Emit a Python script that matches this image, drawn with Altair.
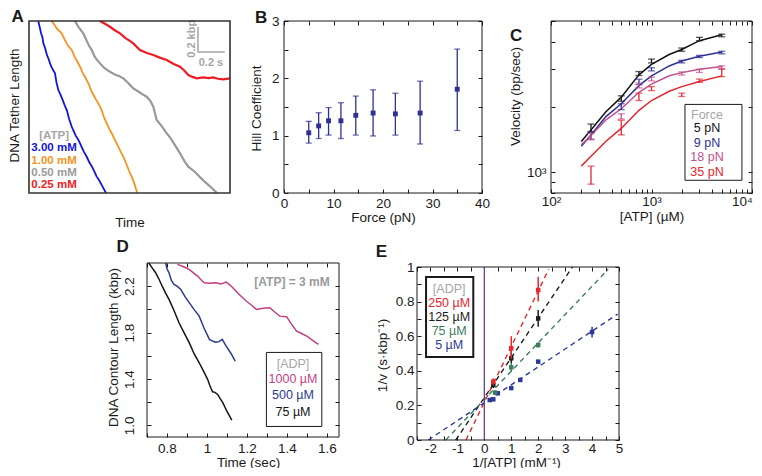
import altair as alt
import pandas as pd

W, H = 746, 460
FONT = "Liberation Sans"
INK = "#1a1a1a"
GRAY = "#9c9c9c"
LABEL_SIZE = 13.5

# ---------------- data ----------------
# Panel A : tether-length traces (time s, length kbp, arbitrary origin)
A_BLUE_T = [0.069, 0.080, 0.090, 0.100, 0.107, 0.120, 0.135, 0.145, 0.157, 0.170, 0.183, 0.194, 0.205, 0.219, 0.235, 0.250, 0.265, 0.282, 0.300, 0.319, 0.335, 0.350, 0.365, 0.381, 0.395, 0.410, 0.431, 0.450, 0.470, 0.490, 0.505, 0.520, 0.540, 0.560, 0.575]
A_BLUE_L = [1.400, 1.350, 1.300, 1.270, 1.218, 1.180, 1.120, 1.095, 1.055, 1.020, 0.995, 0.974, 0.900, 0.838, 0.800, 0.760, 0.718, 0.675, 0.600, 0.539, 0.500, 0.465, 0.438, 0.404, 0.370, 0.335, 0.295, 0.250, 0.215, 0.170, 0.133, 0.110, 0.070, 0.030, 0.000]
A_ORANGE_T = [0.169, 0.190, 0.210, 0.244, 0.265, 0.290, 0.319, 0.340, 0.360, 0.381, 0.400, 0.420, 0.443, 0.470, 0.495, 0.517, 0.540, 0.560, 0.580, 0.600, 0.620, 0.642, 0.665, 0.685, 0.704, 0.725, 0.745, 0.766, 0.785, 0.808]
A_ORANGE_L = [1.400, 1.370, 1.335, 1.300, 1.250, 1.200, 1.164, 1.110, 1.070, 1.028, 0.980, 0.940, 0.893, 0.820, 0.770, 0.730, 0.680, 0.615, 0.567, 0.520, 0.480, 0.431, 0.380, 0.335, 0.295, 0.240, 0.185, 0.133, 0.080, 0.000]
A_GRAY_T = [0.343, 0.370, 0.405, 0.430, 0.450, 0.468, 0.490, 0.510, 0.530, 0.560, 0.585, 0.604, 0.640, 0.675, 0.704, 0.740, 0.778, 0.810, 0.845, 0.878, 0.905, 0.928, 0.940, 0.953, 0.990, 1.028, 1.060, 1.095, 1.127, 1.160, 1.189, 1.239, 1.280, 1.313, 1.360, 1.403]
A_GRAY_L = [1.400, 1.350, 1.300, 1.240, 1.195, 1.164, 1.110, 1.080, 1.055, 1.020, 1.000, 0.987, 0.965, 0.950, 0.933, 0.895, 0.852, 0.830, 0.805, 0.784, 0.750, 0.702, 0.650, 0.594, 0.545, 0.486, 0.440, 0.380, 0.323, 0.260, 0.214, 0.171, 0.125, 0.090, 0.045, 0.000]
A_RED_T = [0.530, 0.570, 0.604, 0.640, 0.679, 0.720, 0.750, 0.778, 0.828, 0.880, 0.928, 0.980, 1.028, 1.080, 1.127, 1.160, 1.189, 1.220, 1.251, 1.301, 1.340, 1.375, 1.410, 1.450, 1.500]
A_RED_L = [1.400, 1.375, 1.353, 1.325, 1.299, 1.260, 1.240, 1.218, 1.164, 1.140, 1.123, 1.100, 1.082, 1.050, 1.028, 0.995, 0.960, 0.945, 0.933, 0.941, 0.935, 0.941, 0.930, 0.925, 0.933]
A_LEGEND = ["[ATP]", "3.00 mM", "1.00 mM", "0.50 mM", "0.25 mM"]
A_LEGEND_COLORS = ["#a6a6a6", "#1414d6", "#f7931e", "#9a9a9a", "#ee1c24"]

# Panel B : Hill coefficient vs force
B_FORCE = [5, 7, 9, 11.5, 14.5, 18, 22.5, 27.5, 35]
B_HILL = [1.05, 1.17, 1.26, 1.26, 1.355, 1.395, 1.38, 1.395, 1.81]
B_LO = [0.87, 0.95, 1.01, 0.95, 1.01, 0.995, 1.01, 0.855, 1.09]
B_HI = [1.25, 1.40, 1.49, 1.575, 1.69, 1.80, 1.74, 1.95, 2.51]

# Panel C : velocity vs [ATP] (uM), four forces
C_ATP = [250, 500, 750, 1000, 2000, 3000, 5000]
C_V5 = [1604, 2198, 2857, 3265, 3690, 4120, 4285]
C_V5_LO = [1539, 2128, 2798, 3199, 3622, 4052, 4226]
C_V5_HI = [1667, 2253, 2918, 3334, 3750, 4200, 4345]
C_V9 = [1475, 1999, 2618, 2992, 3243, 3415, 3565]
C_V9_LO = [1419, 1945, 2540, 2938, 3199, 3387, 3524]
C_V9_HI = [1527, 2070, 2690, 3040, 3289, 3467, 3622]
C_V18 = [1459, 1811, 2512, 2694, 2857, 2939, 3050]
C_V18_LO = [1410, 1760, 2450, 2640, 2810, 2890, 3000]
C_V18_HI = [1510, 1860, 2580, 2750, 2905, 2990, 3100]
C_V35 = [969, 1610, 2228, 2433, 2275, 2643, 2866]
C_V35_LO = [879, 1486, 2143, 2382, 2238, 2600, 2763]
C_V35_HI = [1065, 1738, 2317, 2485, 2317, 2692, 2995]
C_FIT_ATP = [200, 250, 350, 500, 750, 1000, 1500, 2000, 3000, 5000]
C_FIT5 = [1385, 1566, 1897, 2222, 2817, 3150, 3499, 3690, 4054, 4315]
C_FIT9 = [1316, 1485, 1800, 2070, 2512, 2788, 3097, 3265, 3438, 3597]
C_FIT18 = [1337, 1480, 1738, 1963, 2339, 2553, 2788, 2885, 2990, 3076]
C_FIT35 = [1065, 1183, 1385, 1592, 1931, 2143, 2365, 2485, 2625, 2786]
C_LEGEND = ["Force", "5 pN", "9 pN", "18 pN", "35 pN"]

# Panel D : contour length traces (time s, kbp)
D_BLACK_T = [0.709, 0.725, 0.743, 0.760, 0.776, 0.793, 0.810, 0.835, 0.860, 0.885, 0.911, 0.935, 0.961, 0.985, 1.003, 1.015, 1.028, 1.040, 1.053, 1.066, 1.079, 1.100, 1.124]
D_BLACK_L = [2.400, 2.360, 2.316, 2.260, 2.200, 2.140, 2.086, 1.990, 1.885, 1.800, 1.713, 1.620, 1.540, 1.460, 1.397, 1.340, 1.290, 1.285, 1.267, 1.230, 1.196, 1.120, 1.046]
D_BLUE_T = [0.793, 0.800, 0.810, 0.822, 0.835, 0.850, 0.869, 0.890, 0.911, 0.935, 0.961, 0.985, 1.012, 1.030, 1.045, 1.060, 1.076, 1.085, 1.096, 1.120, 1.141]
D_BLUE_L = [2.400, 2.350, 2.316, 2.250, 2.216, 2.200, 2.172, 2.110, 2.058, 2.000, 1.942, 1.840, 1.741, 1.725, 1.718, 1.722, 1.741, 1.715, 1.684, 1.620, 1.554]
D_PINK_T = [0.852, 0.880, 0.911, 0.935, 0.953, 0.970, 0.986, 1.010, 1.045, 1.070, 1.096, 1.115, 1.129, 1.160, 1.196, 1.220, 1.247, 1.280, 1.314, 1.340, 1.364, 1.398, 1.420, 1.448, 1.475, 1.499, 1.530, 1.557]
D_PINK_L = [2.388, 2.370, 2.345, 2.310, 2.287, 2.255, 2.230, 2.225, 2.230, 2.220, 2.235, 2.210, 2.187, 2.130, 2.072, 2.040, 2.000, 2.010, 2.015, 1.975, 1.942, 1.937, 1.880, 1.813, 1.790, 1.770, 1.730, 1.698]
D_LEGEND = ["[ADP]", "1000 \u00b5M", "500 \u00b5M", "75 \u00b5M"]

# Panel E : Lineweaver-Burk
E_RED_X = [0.333, 1, 2]
E_RED_Y = [0.337, 0.53, 0.867]
E_RED_LO = [0.317, 0.47, 0.80]
E_RED_HI = [0.357, 0.60, 0.944]
E_BLK_X = [0.333, 1, 2]
E_BLK_Y = [0.318, 0.472, 0.703]
E_BLK_LO = [0.300, 0.443, 0.655]
E_BLK_HI = [0.336, 0.516, 0.751]
E_GRN_X = [0.4, 1, 2]
E_GRN_Y = [0.274, 0.42, 0.549]
E_GRN_LO = [0.260, 0.395, 0.535]
E_GRN_HI = [0.288, 0.443, 0.563]
E_BLU_X = [0.2, 0.333, 0.5, 1, 1.333, 2, 4]
E_BLU_Y = [0.231, 0.235, 0.27, 0.30, 0.347, 0.453, 0.624]
E_BLU_LO = [0.222, 0.226, 0.261, 0.291, 0.338, 0.444, 0.593]
E_BLU_HI = [0.240, 0.244, 0.279, 0.309, 0.356, 0.462, 0.655]
E_FIT_X0 = [-0.68, -1.06, -1.43, -2.08]
E_FIT_X1 = [2.39, 3.27, 4.60, 4.95]
E_FIT_Y1 = [0.987, 1.0, 0.987, 0.728]
E_LEGEND = ["[ADP]", "250 \u00b5M", "125 \u00b5M", "75 \u00b5M", "5 \u00b5M"]

# colours
C_BLACK, C_BLUE, C_PINK, C_RED = "#141414", "#2e3192", "#c4508e", "#e3262e"
E_RED, E_BLACK, E_GREEN, E_BLUE, E_PURPLE = "#e8262b", "#1e1e1e", "#3f7d5a", "#2b3a99", "#6b3fa0"

# ---------------- layout (chart pixel ranges of each panel) ----------------
PANELS = {
    "A": {"xd": [0, 1.5], "xr": [21, 222], "yd": [0, 1.4], "yr": [185, 13], "xt": "linear", "yt": "linear"},
    "B": {"xd": [0, 40], "xr": [276, 474], "yd": [0, 3], "yr": [185, 13], "xt": "linear", "yt": "linear"},
    "C": {"xd": [100, 10000], "xr": [543, 744], "yd": [800, 5000], "yr": [185, 13], "xt": "log", "yt": "log"},
    "D": {"xd": [0.7, 1.66], "xr": [139, 331], "yd": [0.9, 2.4], "yr": [429, 255], "xt": "linear", "yt": "linear"},
    "E": {"xd": [-2.5, 5], "xr": [409, 611], "yd": [0, 1], "yr": [432, 259], "xt": "linear", "yt": "linear"},
}


def scale(p, ax):
    d = PANELS[p]
    if d[ax + "t"] == "log":
        return alt.Scale(type="log", domain=d[ax + "d"], range=d[ax + "r"], nice=False)
    return alt.Scale(type="linear", domain=d[ax + "d"], range=d[ax + "r"], nice=False, zero=False)


def xy(p, xf="x", yf="y", xaxis=None, yaxis=None):
    return {"x": alt.X(f"{xf}:Q", scale=scale(p, "x"), axis=xaxis),
            "y": alt.Y(f"{yf}:Q", scale=scale(p, "y"), axis=yaxis)}


def tick_ax(orient, offset, values):
    return alt.Axis(orient=orient, offset=offset, values=values, labels=False, domain=False, grid=False,
                    ticks=True, tickSize=4, tickWidth=1, tickColor=INK, title=None, minExtent=0, maxExtent=0)


def xlab_ax(p, values, title, title_y, pad, fmt=None, expr=None, title_x=None, label_offset=None):
    d = PANELS[p]
    kw = dict(orient="bottom", offset=d["yr"][0] - H, ticks=False, tickSize=0, domain=False, grid=False,
              labelFont=FONT, labelFontSize=LABEL_SIZE, labelColor=INK, labelPadding=pad, labelBaseline="alphabetic",
              labelAlign="center", labelFlush=False, labelOverlap=False, labelBound=False,
              title=title, titleFont=FONT, titleFontSize=13.5, titleFontWeight="normal", titleColor=INK,
              titleX=title_x if title_x is not None else (d["xr"][0] + d["xr"][1]) / 2, titleY=title_y,
              titleAlign="center", titleBaseline="alphabetic", titleAngle=0, titleLimit=400,
              minExtent=0, maxExtent=200)
    if values:
        kw["values"] = values
    else:
        kw["labels"] = False
    if fmt:
        kw["format"] = fmt
    if expr:
        kw["labelExpr"] = expr
    if label_offset is not None:
        kw["labelOffset"] = label_offset
    return alt.Axis(**kw)


def ylab_ax(p, values, title, title_x, title_y, pad, fmt=None, expr=None, rotate=False):
    d = PANELS[p]
    kw = dict(orient="left", offset=-d["xr"][0], ticks=False, tickSize=0, domain=False, grid=False,
              labelFont=FONT, labelFontSize=LABEL_SIZE, labelColor=INK, labelPadding=pad,
              labelFlush=False, labelOverlap=False, labelBound=False,
              title=title, titleFont=FONT, titleFontSize=13.5, titleFontWeight="normal", titleColor=INK,
              titleX=title_x, titleY=title_y, titleAlign="center", titleBaseline="alphabetic",
              titleAngle=270, titleLimit=400, minExtent=0, maxExtent=200)
    if rotate:
        kw.update(labelAngle=270, labelAlign="center", labelBaseline="alphabetic")
    else:
        kw.update(labelAlign="right", labelBaseline="middle")
    if values:
        kw["values"] = values
    else:
        kw["labels"] = False
    if fmt:
        kw["format"] = fmt
    if expr:
        kw["labelExpr"] = expr
    return alt.Axis(**kw)


def frame(p, xaxis=None, yaxis=None, visible=True, width=1.0, color=INK):
    d = PANELS[p]
    df = pd.DataFrame({"x": [d["xd"][0]], "x2": [d["xd"][1]], "y": [d["yd"][0]], "y2": [d["yd"][1]]})
    m = alt.Chart(df).mark_rect(fillOpacity=0, stroke=color, strokeWidth=width,
                                strokeOpacity=1 if visible else 0)
    return m.encode(**xy(p, xaxis=xaxis, yaxis=yaxis), x2="x2:Q", y2="y2:Q")


def tick_frames(p, xt, yt):
    d = PANELS[p]
    x0, x1 = d["xr"]
    yb, ytop = d["yr"]
    return [
        frame(p, visible=False, xaxis=tick_ax("top", -yb, xt), yaxis=tick_ax("right", x0 - W, yt)),
        frame(p, visible=False, xaxis=tick_ax("bottom", ytop - H, xt), yaxis=tick_ax("left", -x1, yt)),
    ]


def line(p, xs, ys, color, width=1.5, dash=None):
    df = pd.DataFrame({"x": xs, "y": ys, "o": list(range(len(xs)))})
    kw = dict(color=color, strokeWidth=width)
    if dash:
        kw["strokeDash"] = dash
    return alt.Chart(df).mark_line(**kw).encode(**xy(p), order="o:Q")


def errbars(p, xs, lo, hi, color, cap=6, width=1.2):
    df = pd.DataFrame({"x": xs, "lo": lo, "hi": hi})
    out = [alt.Chart(df).mark_rule(color=color, strokeWidth=width).encode(**xy(p, yf="lo"), y2="hi:Q")]
    if cap:
        for f in ("lo", "hi"):
            out.append(alt.Chart(df).mark_tick(color=color, orient="horizontal", size=cap, thickness=width)
                       .encode(**xy(p, yf=f)))
    return out


def squares(p, xs, ys, color, size=22):
    df = pd.DataFrame({"x": xs, "y": ys})
    return alt.Chart(df).mark_square(color=color, size=size, opacity=1).encode(**xy(p))


def texts(p, xs, ys, labels, colors, size=12, weight="normal", angle=0, align="center", baseline="middle"):
    df = pd.DataFrame({"x": xs, "y": ys, "label": labels, "c": colors})
    return alt.Chart(df).mark_text(font=FONT, fontSize=size, fontWeight=weight, angle=angle,
                                   align=align, baseline=baseline).encode(
        **xy(p), text="label:N", color=alt.Color("c:N", scale=None))


def box(p, x0, x1, y0, y1, width=1.0):
    df = pd.DataFrame({"x": [x0], "x2": [x1], "y": [y0], "y2": [y1]})
    return alt.Chart(df).mark_rect(fill="white", stroke=INK, strokeWidth=width).encode(
        **xy(p), x2="x2:Q", y2="y2:Q")


layers = []

# ---------------- Panel A ----------------
layers += [
    line("A", A_BLUE_T, A_BLUE_L, "#1414d6", 1.8),
    line("A", A_ORANGE_T, A_ORANGE_L, "#f7931e", 1.8),
    line("A", A_GRAY_T, A_GRAY_L, "#999999", 2.2),
    line("A", A_RED_T, A_RED_L, "#ee1c24", 2.2),
    line("A", [1.261, 1.261, 1.461], [1.351, 1.147, 1.147], "#a6a6a6", 1.5),
    texts("A", [0.187] * 5, [0.464, 0.366, 0.260, 0.163, 0.065], A_LEGEND, A_LEGEND_COLORS, size=11.5, weight="bold"),
    texts("A", [1.358], [1.058], ["0.2 s"], ["#a6a6a6"], size=11, weight="bold"),
    texts("A", [1.215], [1.255], ["0.2 kbp"], ["#a6a6a6"], size=11, weight="bold", angle=270),
    frame("A", width=1.6, color="#333333",
          xaxis=xlab_ax("A", [], "Time", 33.5, 0),
          yaxis=ylab_ax("A", [], "DNA Tether Length", -11, 97, 0)),
    texts("A", [-0.13], [1.39], ["A"], [INK], size=17, weight="bold", align="left", baseline="alphabetic"),
]

# ---------------- Panel B ----------------
layers += errbars("B", B_FORCE, B_LO, B_HI, C_BLUE, cap=6, width=1.3)
layers += [
    squares("B", B_FORCE, B_HILL, C_BLUE, 24),
    frame("B", xaxis=xlab_ax("B", [0, 10, 20, 30, 40], "Force (pN)", 28, 14, fmt="d"),
          yaxis=ylab_ax("B", [0, 1, 2, 3], "Hill Coefficient", -24, 100, 5, fmt="d")),
    texts("B", [-5.86], [2.97], ["B"], [INK], size=17, weight="bold", align="left", baseline="alphabetic"),
]
layers += tick_frames("B", [0, 5, 10, 15, 20, 25, 30, 35, 40], [0, 0.5, 1, 1.5, 2, 2.5, 3])

# ---------------- Panel C ----------------
for fit, col in ((C_FIT5, C_BLACK), (C_FIT9, C_BLUE), (C_FIT18, C_PINK), (C_FIT35, C_RED)):
    layers.append(line("C", C_FIT_ATP, fit, col, 1.5))
for lo, hi, col in ((C_V5_LO, C_V5_HI, C_BLACK), (C_V9_LO, C_V9_HI, C_BLUE),
                    (C_V18_LO, C_V18_HI, C_PINK), (C_V35_LO, C_V35_HI, C_RED)):
    layers += errbars("C", C_ATP, lo, hi, col, cap=7, width=1.3)
layers += [
    box("C", 2153, 7943, 916, 2056, 1.0),
    texts("C", [3565] * 5, [1846, 1600, 1366, 1171, 997], C_LEGEND,
          ["#a6a6a6", C_BLACK, C_BLUE, C_PINK, C_RED], size=12.5),
    frame("C", xaxis=xlab_ax("C", [100, 1000, 10000], "[ATP] (\u00b5M)", 27, 12,
                             expr="datum.value < 500 ? '10\u00b2' : (datum.value < 5000 ? '10\u00b3' : '10\u2074')",
                             label_offset={"condition": {"test": "datum.value > 5000", "value": -10}, "value": 0}),
          yaxis=ylab_ax("C", [1000], "Velocity (bp/sec)", -32, 88, 5, expr="'10\u00b3'")),
    texts("C", [39.1], [4050], ["C"], [INK], size=17, weight="bold", align="left", baseline="alphabetic"),
]
layers += tick_frames("C", [100, 200, 300, 400, 500, 600, 700, 800, 900, 1000, 2000, 3000, 4000, 5000,
                            6000, 7000, 8000, 9000, 10000], [800, 900, 1000, 2000, 3000, 4000, 5000])

# ---------------- Panel D ----------------
layers += [
    line("D", D_PINK_T, D_PINK_L, "#c23f83", 1.5),
    line("D", D_BLUE_T, D_BLUE_L, "#2b3a8f", 1.5),
    line("D", D_BLACK_T, D_BLACK_L, C_BLACK, 1.5),
    texts("D", [1.425], [2.233], ["[ATP] = 3 mM"], ["#9a9a9a"], size=12, weight="bold"),
    box("D", 1.297, 1.574, 0.991, 1.629, 1.0),
    texts("D", [1.430] * 4, [1.526, 1.397, 1.259, 1.112], D_LEGEND,
          ["#a6a6a6", "#c23f83", "#2b3a8f", C_BLACK], size=12.5),
    frame("D", xaxis=xlab_ax("D", [0.8, 1.0, 1.2, 1.4, 1.6], "Time (sec)", 29, 15, fmt="~g", title_x=240),
          yaxis=ylab_ax("D", [1.0, 1.4, 1.8, 2.2], "DNA Contour Length (kbp)", -30, 339, 14,
                        fmt=".1f", rotate=True)),
    texts("D", [0.548], [2.491], ["D"], [INK], size=17, weight="bold", align="left", baseline="alphabetic"),
]
layers += tick_frames("D", [0.7, 0.8, 0.9, 1.0, 1.1, 1.2, 1.3, 1.4, 1.5, 1.6],
                      [1.0, 1.2, 1.4, 1.6, 1.8, 2.0, 2.2])

# ---------------- Panel E ----------------
fit_cols = [E_RED, E_BLACK, E_GREEN, E_BLUE]
for x0, x1, y1, col in zip(E_FIT_X0, E_FIT_X1, E_FIT_Y1, fit_cols):
    layers.append(line("E", [x0, x1], [0, y1], col, 1.4, dash=[5, 4]))
layers.append(line("E", [0, 0], [0, 1], E_PURPLE, 1.3))
for xs, ys, lo, hi, col in ((E_BLU_X, E_BLU_Y, E_BLU_LO, E_BLU_HI, E_BLUE),
                            (E_GRN_X, E_GRN_Y, E_GRN_LO, E_GRN_HI, E_GREEN),
                            (E_BLK_X, E_BLK_Y, E_BLK_LO, E_BLK_HI, E_BLACK),
                            (E_RED_X, E_RED_Y, E_RED_LO, E_RED_HI, E_RED)):
    layers += errbars("E", xs, lo, hi, col, cap=0, width=1.5)
    layers.append(squares("E", xs, ys, col, 20))
layers += [
    box("E", -2.164, -0.41, 0.480, 0.942, 2.0),
    texts("E", [-1.306] * 5, [0.873, 0.792, 0.711, 0.630, 0.549], E_LEGEND,
          ["#a6a6a6", E_RED, E_BLACK, E_GREEN, E_BLUE], size=12.5),
    frame("E", xaxis=xlab_ax("E", [-2, -1, 0, 1, 2, 3, 4, 5], "1/[ATP] (mM\u207b\u00b9)", 26, 12,
                             expr="toString(datum.value)", title_x=508),
          yaxis=ylab_ax("E", [0, 0.2, 0.4, 0.6, 0.8, 1], "1/v (s\u00b7kbp\u207b\u00b9)", -31, 347, 3, fmt="~g")),
    texts("E", [-4.03], [1.058], ["E"], [INK], size=17, weight="bold", align="left", baseline="alphabetic"),
]
layers += tick_frames("E", [-2.5, -2, -1.5, -1, -0.5, 0, 0.5, 1, 1.5, 2, 2.5, 3, 3.5, 4, 4.5, 5],
                      [0, 0.1, 0.2, 0.3, 0.4, 0.5, 0.6, 0.7, 0.8, 0.9, 1])

chart = alt.layer(*layers).resolve_scale(x="independent", y="independent").properties(
    width=W, height=H, autosize=alt.AutoSizeParams(type="none"), padding=0
).configure_view(strokeWidth=0)

chart.save("out.html", embed_options={"renderer": "svg", "actions": False})
